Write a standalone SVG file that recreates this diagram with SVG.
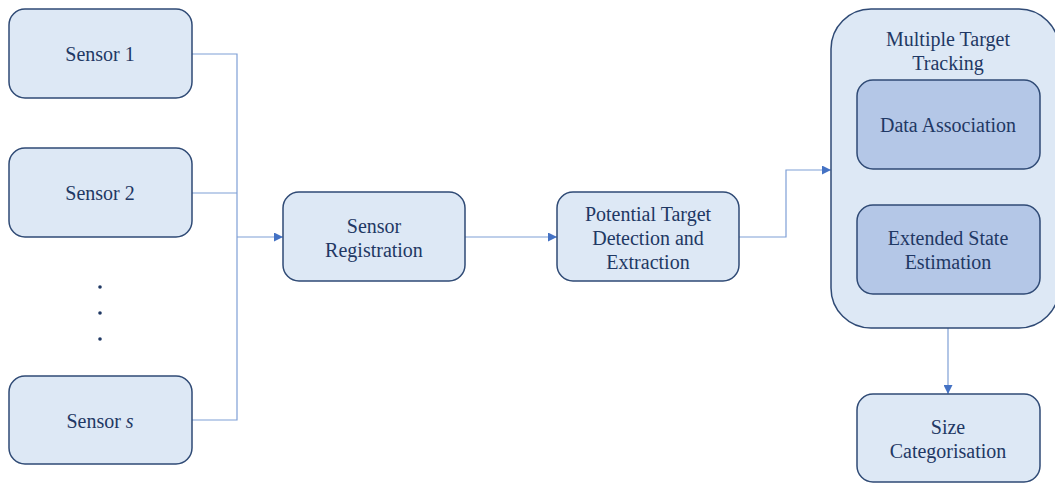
<svg xmlns="http://www.w3.org/2000/svg" width="1055" height="483" viewBox="0 0 1055 483">
<defs>
<style>
.box{fill:#dde8f5;stroke:#2f4a75;stroke-width:1.5}
.inner{fill:#b4c7e7;stroke:#2f4a75;stroke-width:1.5}
.t{font-family:'Liberation Serif','Times New Roman',serif;font-size:20px;fill:#1f3864;text-anchor:middle}
.c{fill:none;stroke:#7f9fd6;stroke-width:1.2}
</style>
<marker id="ah" viewBox="0 0 10 10" refX="10" refY="5" markerWidth="9" markerHeight="9" markerUnits="userSpaceOnUse" orient="auto">
<path d="M0,0 L10,5 L0,10 z" fill="#4472c4"/>
</marker>
</defs>
<rect width="1055" height="483" fill="#ffffff"/>
<g id="connectors">
<polyline class="c" points="192,54 237,54 237,420 192,420"/>
<line class="c" x1="192" y1="193" x2="237" y2="193"/>
<line class="c" x1="237" y1="237" x2="283" y2="237" marker-end="url(#ah)"/>
<line class="c" x1="465" y1="237" x2="557" y2="237" marker-end="url(#ah)"/>
<polyline class="c" points="739,237 786,237 786,170 831,170" marker-end="url(#ah)"/>
<line class="c" x1="948" y1="328" x2="948" y2="394" marker-end="url(#ah)"/>
</g>
<g id="sensor1"><rect class="box" x="9" y="9" width="183" height="89" rx="16"/><text class="t" x="100" y="61">Sensor 1</text></g>
<g id="sensor2"><rect class="box" x="9" y="148" width="183" height="89" rx="16"/><text class="t" x="100" y="200">Sensor 2</text></g>
<g id="dots" fill="#1f3864"><circle cx="100" cy="287" r="1.8"/><circle cx="100" cy="313" r="1.8"/><circle cx="100" cy="339" r="1.8"/></g>
<g id="sensors"><rect class="box" x="9" y="376" width="183" height="88" rx="16"/><text class="t" x="100" y="428">Sensor <tspan font-style="italic">s</tspan></text></g>
<g id="registration"><rect class="box" x="283" y="192" width="182" height="89" rx="16"/><text class="t" x="374" y="233">Sensor</text><text class="t" x="374" y="257">Registration</text></g>
<g id="detection"><rect class="box" x="557" y="192" width="182" height="89" rx="16"/><text class="t" x="648" y="221">Potential Target</text><text class="t" x="648" y="245">Detection and</text><text class="t" x="648" y="269">Extraction</text></g>
<g id="mtt"><rect class="box" x="831" y="9" width="228" height="319" rx="40"/><text class="t" x="948" y="46">Multiple Target</text><text class="t" x="948" y="70">Tracking</text>
<g id="association"><rect class="inner" x="857" y="80" width="183" height="89" rx="16"/><text class="t" x="948" y="132">Data Association</text></g>
<g id="estimation"><rect class="inner" x="857" y="205" width="183" height="89" rx="16"/><text class="t" x="948" y="245">Extended State</text><text class="t" x="948" y="269">Estimation</text></g>
</g>
<g id="size"><rect class="box" x="857" y="394" width="183" height="88" rx="16"/><text class="t" x="948" y="434">Size</text><text class="t" x="948" y="458">Categorisation</text></g>
</svg>
